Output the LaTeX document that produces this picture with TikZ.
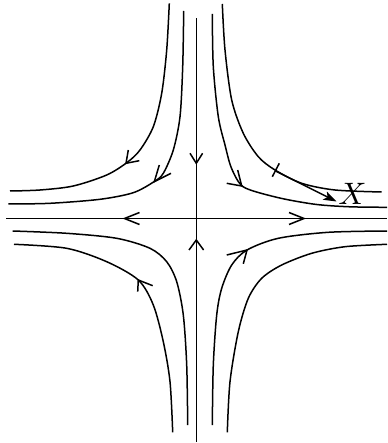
\documentclass[tikz,border=0pt]{standalone}
\usetikzlibrary{arrows.meta}
\begin{document}
\begin{tikzpicture}[x=1pt,y=-1pt,
  curve/.style={line width=1.5pt, smooth, tension=0.5},
  axis/.style={line width=1.5pt},
  barb/.style={line width=1.5pt, line join=miter},
  tickmark/.style={line width=1.5pt},
  vecarrow/.style={line width=1.5pt, -{Stealth[length=13pt,width=9pt,inset=3pt]}},
  lbl/.style={inner sep=0pt, scale=3.1}]
\useasboundingbox (0,0) rectangle (387,443);
% axes
\coordinate (vt) at (196.3,18.3);
\coordinate (vb) at (196.3,442);
\coordinate (hl) at (6,218.5);
\coordinate (hr) at (387,218.5);
\draw[axis] (vt) -- (vb);
\draw[axis] (hl) -- (hr);
% axis arrowheads
\draw[barb] (139.5,212.5) -- (124.5,218.5) -- (139.5,224.5);
\draw[barb] (289,212.5) -- (304,218.5) -- (289,224.5);
\draw[barb] (190,153.3) -- (196.3,163.3) -- (202.6,153.3);
\draw[barb] (189,250) -- (196.3,240) -- (203.6,250);
% top-left curves
\draw[curve] plot coordinates {(169.3,3.3) (166.7,50) (161.7,93.3) (153.3,126.7) (140,150) (127,162.5) (106.7,175) (73.3,186) (40,190) (10,191)};
\draw[curve] plot coordinates {(183.7,11) (182.7,66.7) (180,116.7) (173.3,150) (163.3,173.3) (154.3,181.5) (133.3,192.7) (100,199.3) (50,203.3) (8.3,204)};
\draw[barb] (128.3,150) -- (126,163.3) -- (139.3,160.7);
\draw[barb] (159.3,165) -- (154.3,181.7) -- (171,173.3);
% top-right curves
\draw[curve] plot coordinates {(212.3,14) (213.3,66.7) (218.3,116.7) (225,145) (231,167) (240.5,184.5) (253.3,191) (283.3,198.8) (316.7,204.5) (350,206.8) (387,207.3)};
\draw[curve] plot coordinates {(222.3,4) (225,50) (231.7,100) (243.3,133.3) (258.3,156.7) (275,170) (301.7,183.3) (335,190) (381.7,192)};
\draw[barb] (237.7,170) -- (241.7,186) -- (226.7,183.3);
\draw[tickmark] (272.3,176.7) -- (279.3,163.3);
\coordinate (xs) at (275.5,171);
\coordinate (xe) at (336.5,201.5);
\draw[vecarrow] (xs) -- (xe);
\node[lbl] (X) at (352.5,194) {$X$};
% bottom-left curves
\draw[curve] plot coordinates {(12.7,231) (66.7,233.3) (116.7,238.3) (150,248.3) (166.7,261.7) (176.7,281.7) (183.3,315) (186.7,365) (187.7,425)};
\draw[curve] plot coordinates {(14,244.3) (66.7,248.3) (106.7,261.7) (138.3,280) (153.3,305) (163.3,341.7) (170,381.7) (172.7,432.3)};
\draw[barb] (137.7,291.7) -- (138.3,280) -- (152.7,285.7);
% bottom-right curves
\draw[curve] plot coordinates {(212.3,425) (213.3,365) (216.7,315) (221.7,288.3) (231.7,265) (247,250) (278.3,238.3) (328.3,232.3) (387,231)};
\draw[curve] plot coordinates {(227.3,432.3) (230,381.7) (238.3,331.7) (248.3,298.3) (261.7,278.3) (281.7,265) (311.7,253.3) (345,246.7) (387,244.3)};
\draw[barb] (226.7,255) -- (247,250) -- (243.3,263.8);
\end{tikzpicture}
\end{document}
